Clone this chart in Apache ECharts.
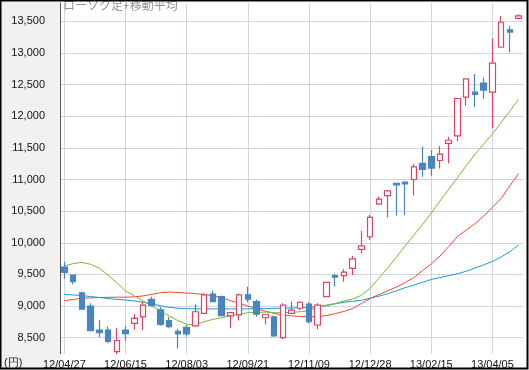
<!DOCTYPE html>
<html><head><meta charset="utf-8">
<script src="https://cdn.jsdelivr.net/npm/echarts@6/dist/echarts.min.js"></script>
<style>html,body{margin:0;padding:0;background:#fff;overflow:hidden}#c{width:529px;height:370px}</style>
</head><body><div id="c"></div>
<script>
const dates = ['12/04/27','12/05/04','12/05/11','12/05/18','12/05/25','12/06/01','12/06/08','12/06/15','12/06/22','12/06/29',
'12/07/06','12/07/13','12/07/20','12/07/27','12/08/03','12/08/10','12/08/17','12/08/24','12/08/31','12/09/07',
'12/09/14','12/09/21','12/09/28','12/10/05','12/10/12','12/10/19','12/10/26','12/11/02','12/11/09','12/11/16',
'12/11/23','12/11/30','12/12/07','12/12/14','12/12/21','12/12/28','13/01/04','13/01/11','13/01/18','13/01/25',
'13/02/01','13/02/08','13/02/15','13/02/22','13/03/01','13/03/08','13/03/15','13/03/22','13/03/29','13/04/05',
'13/04/12','13/04/19','13/04/26'];
const opens  = [9615,9490,9210,9000,8620,8620,8280,8620,8725,8830,9105,8940,8770,8600,8665,8685,8885,9190,9150,8845,8860,9175,9070,8815,8830,8500,8885,8965,9030,8700,9150,9480,9480,9595,9895,10095,10610,10745,10940,10960,11000,11255,11360,11300,11570,11690,12300,12380,12525,12380,13090,13365,13545];
const closes = [9530,9385,8950,8610,8580,8440,8455,8565,8805,9015,9010,8710,8675,8560,8560,8910,9175,9070,8850,8895,9175,9110,8870,8870,8530,9015,8935,9060,8755,9015,9375,9455,9535,9745,9950,10400,10690,10820,10915,10930,11200,11160,11180,11400,11620,12280,12590,12345,12410,12840,13485,13330,13585];
const lows   = [9430,9345,8945,8600,8505,8410,8240,8450,8630,8620,8990,8690,8650,8330,8515,8675,8870,9060,8845,8650,8770,9060,8830,8710,8515,8475,8880,8935,8725,8635,9140,9305,9385,9490,9835,10045,10605,10400,10430,10440,10745,11045,11060,11175,11255,11610,12165,12150,12275,11810,13090,13005,13535];
const highs  = [9700,9495,9225,9045,8780,8675,8650,8690,8870,9070,9145,8990,8825,8640,8700,9030,9200,9240,9165,8910,9200,9305,9105,8880,8850,9045,9070,9080,9060,9045,9380,9505,9585,9790,10190,10440,10730,10835,10945,10965,11245,11520,11465,11530,11675,12280,12590,12665,12610,13230,13585,13430,13610];
const maShort = [9633,9670,9690,9660,9597,9490,9370,9238,9163,9080,9005,8920,8843,8770,8712,8700,8753,8790,8815,8848,8870,8895,8900,8905,8895,8895,8900,8910,8925,8985,9015,9040,9080,9110,9170,9280,9440,9600,9770,9950,10120,10290,10470,10660,10845,11030,11215,11400,11560,11720,11900,12080,12265];
const maMid   = [9085,9105,9122,9128,9135,9138,9140,9140,9145,9160,9185,9210,9220,9215,9205,9195,9185,9160,9135,9085,9045,9000,8960,8920,8885,8855,8845,8835,8832,8832,8850,8880,8915,8960,9040,9120,9180,9240,9300,9370,9450,9560,9665,9790,9940,10100,10200,10300,10420,10560,10700,10900,11095];
const maLong  = [9185,9175,9165,9150,9135,9120,9105,9095,9080,9060,9035,9005,8980,8965,8958,8955,8955,8955,8955,8955,8955,8955,8958,8960,8965,8965,8968,8972,8978,8990,9005,9035,9060,9075,9090,9125,9155,9195,9240,9290,9330,9375,9420,9450,9480,9510,9550,9600,9650,9705,9775,9860,9965];
const yTicks = [8500,9000,9500,10000,10500,11000,11500,12000,12500,13000,13500];
const titleText = 'ローソク足+移動平均';
const unitText = '(円)';

const chart = echarts.init(document.getElementById('c'), null, {renderer:'canvas'});
const font = 'Liberation Sans, Arial, sans-serif';
const ohlc = dates.map((d,i)=>[opens[i],closes[i],lows[i],highs[i]]);
const lineStyle = (c)=>({type:'line',data:null,showSymbol:false,symbol:'none',smooth:false,lineStyle:{color:c,width:1},itemStyle:{color:c},z:3,silent:true,animation:false});
chart.setOption({
  animation:false,
  backgroundColor:'#fff',
  grid:{left:60,right:6,top:3,bottom:16,containLabel:false},
  graphic:[
    {type:'rect',shape:{x:0,y:0,width:60,height:370},style:{fill:'#f2f1ef'},z:-10,silent:true},
    {type:'text',left:4,top:357,style:{text:unitText,font:'11px '+font,fill:'#222'},z:10},
    {type:'text',left:63,top:-1,style:{text:titleText,font:'12px "Noto Sans CJK JP"',fill:'#909090'},z:10},
    {type:'rect',shape:{x:0.5,y:0.5,width:527,height:368},style:{fill:'none',stroke:'#000',lineWidth:2},z:20,silent:true}
  ],
  xAxis:{type:'category',data:dates,boundaryGap:true,
    axisLine:{show:false},axisTick:{show:false},
    axisLabel:{interval:(i)=>i%7===0,color:'#111',fontSize:11,fontFamily:font,margin:5},
    splitLine:{show:true,interval:(i)=>i%7===0,alignWithLabel:true,lineStyle:{color:'#cdd6e4',width:1}}
  },
  yAxis:{type:'value',min:8242,max:13789,scale:true,
    axisLine:{show:true,lineStyle:{color:'#555',width:1}},
    axisTick:{show:false,customValues:yTicks},
    axisLabel:{customValues:yTicks,color:'#111',fontSize:11,fontFamily:font,margin:15,
      formatter:(v)=>v.toLocaleString('en-US')},
    splitLine:{show:true,lineStyle:{color:'#cdd6e4',width:1}}
  },
  series:[
    Object.assign(lineStyle('#1a9bd7'),{data:maLong}),
    Object.assign(lineStyle('#f04a35'),{data:maMid}),
    Object.assign(lineStyle('#7ab832'),{data:maShort}),
    {type:'candlestick',data:ohlc,barWidth:6,z:5,animation:false,
      itemStyle:{color:'#ffffff',color0:'#4a85bf',borderColor:'#dc4566',borderColor0:'#4a85bf',borderWidth:1.2}}
  ]
});
</script></body></html>
